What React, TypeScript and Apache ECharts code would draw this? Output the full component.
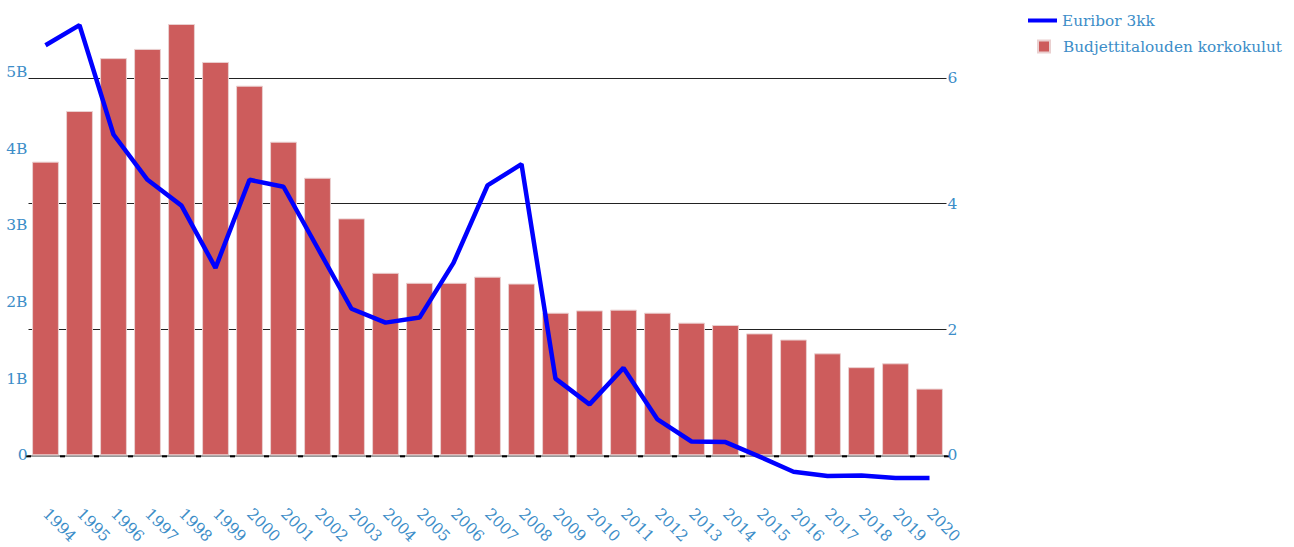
import React, { useEffect, useRef } from "react";
import * as echarts from "echarts";

const years = ["1994","1995","1996","1997","1998","1999","2000","2001","2002","2003","2004","2005","2006","2007","2008","2009","2010","2011","2012","2013","2014","2015","2016","2017","2018","2019","2020"];
const interestCosts = [3.83e9,4.49e9,5.18e9,5.30e9,5.625e9,5.13e9,4.82e9,4.09e9,3.62e9,3.09e9,2.38e9,2.25e9,2.25e9,2.33e9,2.24e9,1.86e9,1.89e9,1.90e9,1.86e9,1.73e9,1.70e9,1.59e9,1.51e9,1.33e9,1.15e9,1.20e9,0.87e9];
const euribor3m = [6.52,6.84,5.10,4.38,3.97,2.98,4.38,4.27,3.30,2.33,2.11,2.19,3.06,4.29,4.63,1.22,0.81,1.39,0.57,0.22,0.21,-0.02,-0.26,-0.33,-0.32,-0.36,-0.36];
const leftTicks = [0,1e9,2e9,3e9,4e9,5e9];
const rightTicks = [0,2,4,6];

const LINE_NAME = "Euribor 3kk";
const BAR_NAME = "Budjettitalouden korkokulut";
const FONT = "DejaVu Serif";
const TXT = "#3c8dc8";

export default function App() {
  const ref = useRef<HTMLDivElement>(null);
  useEffect(() => {
    document.body.style.margin = "0";
    const chart = echarts.init(ref.current!, null, { renderer: "svg" });
    const top = 15;
    const bottomY = 456;
    const h = bottomY - top;
    const rightMax = h / 63;
    const leftMax = (h / 76.8) * 1e9;
    chart.setOption({
      animation: false,
      textStyle: { fontFamily: FONT },
      grid: { left: 28.5, top, width: 918, height: h, containLabel: false },
      legend: [
        {
          left: 1028, top: 13, orient: "vertical", padding: 0,
          itemWidth: 29, itemHeight: 4,
          data: [{ name: LINE_NAME, icon: "rect" }],
          textStyle: { color: TXT, fontSize: 15.3, fontFamily: FONT },
        },
        {
          left: 1037, top: 39, orient: "vertical", padding: 0,
          itemWidth: 12, itemHeight: 12,
          data: [{ name: BAR_NAME, icon: "rect" }],
          textStyle: { color: TXT, fontSize: 15.3, fontFamily: FONT, padding: [0, 0, 0, 8] },
        },
      ],
      xAxis: {
        type: "category",
        data: years,
        axisLine: { show: true, onZero: false, lineStyle: { color: "#777", width: 1.5 } },
        axisTick: { show: true, length: 2, lineStyle: { color: "#000", width: 5 } },
        axisLabel: { rotate: -45, margin: 56, color: TXT, fontSize: 15.5, fontFamily: FONT },
        splitLine: { show: false },
      },
      yAxis: [
        {
          type: "value",
          min: 0,
          max: leftMax,
          interval: 1e9,
          position: "left",
          axisLine: { show: false },
          axisTick: { show: false },
          splitLine: { show: false },
          axisLabel: {
            margin: 1,
            color: TXT,
            fontSize: 15.5,
            fontFamily: FONT,
            formatter: (v: number) => {
              const t = leftTicks.find((x) => Math.abs(x - v) < 1);
              if (t === undefined) return "";
              return t === 0 ? "0" : t / 1e9 + "B";
            },
          },
        },
        {
          type: "value",
          min: 0,
          max: rightMax,
          interval: 2,
          position: "right",
          axisLine: { show: false },
          axisTick: { show: false },
          splitLine: {
            show: true,
            lineStyle: { color: ["rgba(0,0,0,0)", "#222", "#222", "#222", "rgba(0,0,0,0)"], width: 1 },
          },
          axisLabel: {
            margin: 1,
            color: TXT,
            fontSize: 15.5,
            fontFamily: FONT,
            formatter: (v: number) => {
              const t = rightTicks.find((x) => Math.abs(x - v) < 1e-6);
              return t === undefined ? "" : String(t);
            },
          },
        },
      ],
      series: [
        {
          name: BAR_NAME,
          type: "bar",
          yAxisIndex: 0,
          data: interestCosts,
          barWidth: "79%",
          itemStyle: { color: "#cd5c5c", borderColor: "#ead0d0", borderWidth: 1 },
          z: 2,
        },
        {
          name: LINE_NAME,
          type: "line",
          yAxisIndex: 1,
          data: euribor3m,
          clip: false,
          showSymbol: false,
          symbol: "none",
          lineStyle: { color: "#0000ff", width: 4.5 },
          itemStyle: { color: "#0000ff" },
          z: 3,
        },
      ],
    });
    return () => chart.dispose();
  }, []);
  return <div ref={ref} style={{ width: 1294, height: 547 }} />;
}
